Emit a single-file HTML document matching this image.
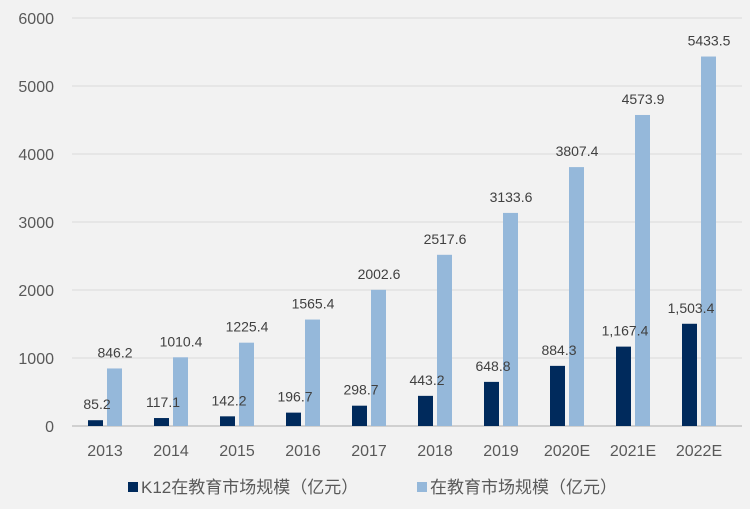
<!DOCTYPE html>
<html><head><meta charset="utf-8"><style>
body{margin:0;background:#f2f2f2;}
svg{display:block;font-family:"Liberation Sans","Noto Sans CJK SC",sans-serif;}
</style></head><body>
<svg id="c" width="750" height="509"></svg>
<script>
const categories=["2013","2014","2015","2016","2017","2018","2019","2020E","2021E","2022E"];
const k12Values=[85.2,117.1,142.2,196.7,298.7,443.2,648.8,884.3,1167.4,1503.4];
const k12Labels=["85.2","117.1","142.2","196.7","298.7","443.2","648.8","884.3","1,167.4","1,503.4"];
const onlineValues=[846.2,1010.4,1225.4,1565.4,2002.6,2517.6,3133.6,3807.4,4573.9,5433.5];
const onlineLabels=["846.2","1010.4","1225.4","1565.4","2002.6","2517.6","3133.6","3807.4","4573.9","5433.5"];
const yTicks=[0,1000,2000,3000,4000,5000,6000];
const ns="http://www.w3.org/2000/svg";
const svg=document.getElementById('c');
const x0=72,step=66,y0=426,ppu=68/1000;
const y=v=>y0-v*ppu;
function mk(t,a,p){const e=document.createElementNS(ns,t);for(const k in a)e.setAttribute(k,a[k]);(p||svg).appendChild(e);return e;}
yTicks.forEach(t=>{
 const l=mk('line',{x1:x0,x2:742,y1:y(t),y2:y(t),stroke:t===0?'#d0d0d0':'#d9d9d9','stroke-width':t===0?2:1});
 
 
 const tx=mk('text',{x:54,y:y(t)+6,'text-anchor':'end','font-size':16,fill:'#595959'});
 tx.textContent=t;
 
 
});
categories.forEach((c,i)=>{
 const cx=x0+step*i+step/2;
 const b1=mk('rect',{x:cx-17,y:y(k12Values[i]),width:15,height:k12Values[i]*ppu,fill:'#002a5c'});
 
 
 const b2=mk('rect',{x:cx+2,y:y(onlineValues[i]),width:15,height:onlineValues[i]*ppu,fill:'#95b8da'});
 
 
 const t1=mk('text',{x:cx-8,y:y(k12Values[i])-11,'text-anchor':'middle','font-size':14,fill:'#404040'});
 t1.textContent=k12Labels[i];
 
 
 const t2=mk('text',{x:cx+10,y:y(onlineValues[i])-11,'text-anchor':'middle','font-size':14,fill:'#404040'});
 t2.textContent=onlineLabels[i];
 
 
 const tx=mk('text',{x:cx,y:456,'text-anchor':'middle','font-size':16,fill:'#595959'});
 tx.textContent=c;
 
 
});
const g=mk('g',{});


const r1=mk('rect',{x:128,y:482,width:10,height:10,fill:'#002a5c'},g);


const l1=mk('text',{x:141,y:493,'font-size':17,fill:'#595959'},g);
l1.textContent='K12在教育市场规模（亿元）';


const r2=mk('rect',{x:417,y:482,width:10,height:10,fill:'#95b8da'},g);


const l2=mk('text',{x:430,y:493,'font-size':17,fill:'#595959'},g);
l2.textContent='在教育市场规模（亿元）';


</script>
</body></html>
